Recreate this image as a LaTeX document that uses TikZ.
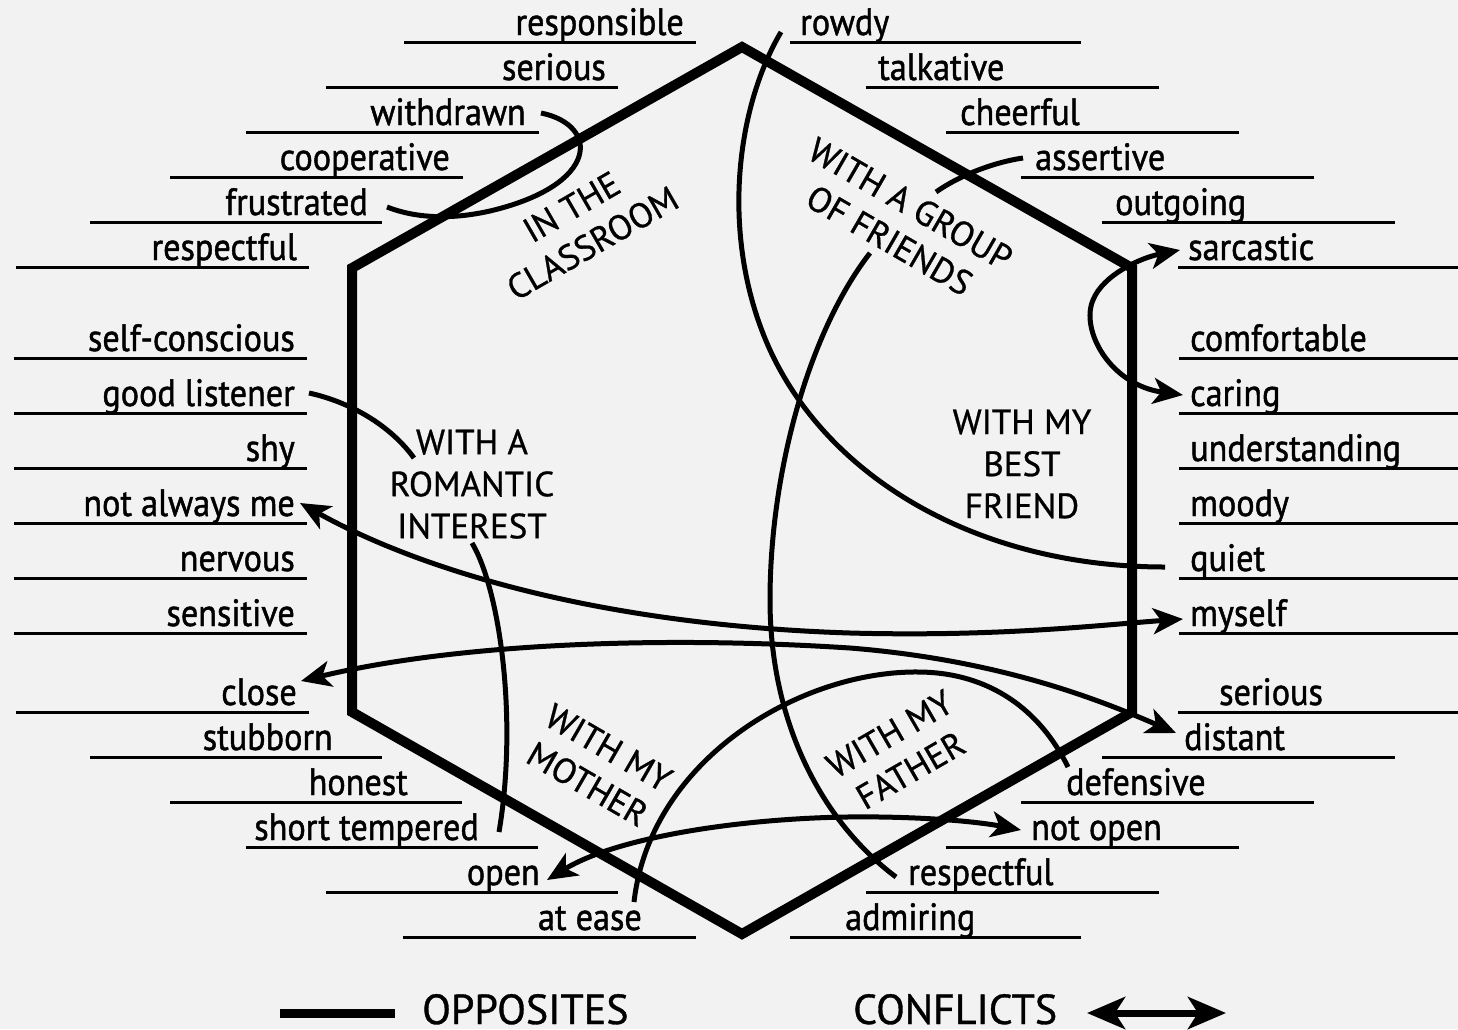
\documentclass[tikz,border=0pt]{standalone}
\usepackage{fontspec}
\setmainfont{PT Sans}
\newfontfamily\hand[FakeStretch=0.9,FakeBold=1.2]{PT Sans}
\newfontfamily\lab[FakeBold=0.8]{PT Sans}
\usetikzlibrary{arrows.meta}
\definecolor{bg}{HTML}{F2F2F2}
\tikzset{
  uline/.style={line width=3pt},
  word/.style={font=\hand\fontsize{38}{42}\selectfont, inner sep=0pt},
  lw/.style={word, anchor=base east},
  rw/.style={word, anchor=base west},
  region/.style={font=\lab\fontsize{35}{42}\selectfont, align=center, inner sep=0pt},
  link/.style={line width=5pt},
  hexa/.style={line width=10pt, line join=miter},
  tipB/.style={{Stealth[length=30pt,width=26pt,inset=8pt]}-{Stealth[length=30pt,width=26pt,inset=8pt]}},
  legendtext/.style={font=\lab\fontsize{42}{46}\selectfont, anchor=base west, inner sep=0pt},
}
\begin{document}
\begin{tikzpicture}[x=1pt,y=-1pt]
\useasboundingbox (0,0) rectangle (1458,1029);
\fill[bg] (0,0) rectangle (1458,1029);

% left words: name/text/text right x/line y/line left/line right
\foreach \n/\t/\x/\y/\a/\b in {
  responsible/responsible/684/42/404/696,
  seriousL/serious/606/87/326/618,
  withdrawn/withdrawn/526/132/246/539,
  cooperative/cooperative/450/177/170/463,
  frustrated/frustrated/368/222/90/382,
  respectfulL/respectful/297/267/16/309,
  selfconscious/self-conscious/295/358/14/307,
  goodlistener/good listener/295/413/14/307,
  shy/shy/295/468/14/307,
  notalwaysme/not always me/295/523/14/307,
  nervous/nervous/295/578/14/307,
  sensitive/sensitive/295/633/14/307,
  close/close/297/712/16/309,
  stubborn/stubborn/333/757/90/382,
  honest/honest/408/802/170/462,
  shorttempered/short tempered/479/847/246/538,
  open/open/540/892/326/618,
  atease/at ease/642/937/403/696}
{
  \draw[uline] (\a,\y) -- (\b,\y);
  \node[lw] (\n) at (\x,\y-7) {\t};
}

% right words: name/text/text left x/line y/line left/line right
\foreach \n/\t/\x/\y/\a/\b in {
  rowdy/rowdy/800/42/790/1081,
  talkative/talkative/878/87/866/1159,
  cheerful/cheerful/960/132/946/1239,
  assertive/assertive/1035/177/1021/1314,
  outgoing/outgoing/1115/222/1102/1395,
  sarcastic/sarcastic/1188/267/1178/1458,
  comfortable/comfortable/1190/358/1179/1458,
  caring/caring/1190/413/1179/1458,
  understanding/understanding/1190/468/1179/1458,
  moody/moody/1190/523/1179/1458,
  quiet/quiet/1190/578/1179/1458,
  myself/myself/1190/633/1179/1458,
  seriousR/serious/1219/712/1178/1458,
  distant/distant/1184/757/1102/1395,
  defensive/defensive/1066/802/1021/1314,
  notopen/not open/1031/847/946/1239,
  respectfulR/respectful/908/892/866/1159,
  admiring/admiring/845/937/790/1081}
{
  \draw[uline] (\a,\y) -- (\b,\y);
  \node[rw] (\n) at (\x,\y-7) {\t};
}

% region labels
\node[region, rotate=30] (classroom) at (582,225) {IN THE\\CLASSROOM};
\node[region, rotate=-30] (friends) at (900,222) {WITH A GROUP\\OF FRIENDS};
\node[region] (bestfriend) at (1022,464) {WITH MY\\BEST\\FRIEND};
\node[region] (romantic) at (472,484) {WITH A\\ROMANTIC\\INTEREST};
\node[region, rotate=-30] (mother) at (598,766) {WITH MY\\MOTHER};
\node[region, rotate=30] (father) at (900,752) {WITH MY\\FATHER};

% connector end points
\coordinate (cWithdrawn) at (541,113);
\coordinate (cFrustrated) at (387,207);
\coordinate (cRowdy) at (781,32);
\coordinate (cQuiet) at (1165,567);
\coordinate (cAssertive) at (1023,158);
\coordinate (cAssertiveB) at (936,192);
\coordinate (cRespectA) at (870,253);
\coordinate (cRespect) at (896,877);
\coordinate (cSarcastic) at (1180,250);
\coordinate (cCaring) at (1183,395);
\coordinate (cListener) at (309,393);
\coordinate (cListenerB) at (414,458);
\coordinate (cTemperA) at (472,543);
\coordinate (cTemper) at (499,832);
\coordinate (cNotAlways) at (300,503);
\coordinate (cMyself) at (1183,619);
\coordinate (cClose) at (301,681);
\coordinate (cDistant) at (1176,733);
\coordinate (cOpen) at (547,880);
\coordinate (cNotOpen) at (1021,830);
\coordinate (cAtEase) at (634,902);
\coordinate (cDefensive) at (1068,767);

% connectors
\draw[link] (cWithdrawn) .. controls (600,125) and (600,185) .. (490,211)
  .. controls (450,220) and (415,218) .. (cFrustrated);
\draw[link] (cRowdy) .. controls (735,110) and (720,240) .. (770,350)
  .. controls (830,480) and (980,567) .. (cQuiet);
\draw[link] (cAssertive) .. controls (995,162) and (960,175) .. (cAssertiveB);
\draw[link] (cRespectA) .. controls (810,330) and (770,470) .. (770,600)
  .. controls (770,720) and (820,820) .. (cRespect);
\draw[link, tipB] (cCaring) .. controls (1110,385) and (1080,330) .. (1093,300)
  .. controls (1103,275) and (1140,258) .. (cSarcastic);
\draw[link] (cListener) .. controls (350,402) and (390,425) .. (cListenerB);
\draw[link] (cTemperA) .. controls (500,590) and (518,720) .. (cTemper);
\draw[link, tipB] (cNotAlways) .. controls (420,570) and (600,625) .. (850,633)
  .. controls (1000,637) and (1100,625) .. (cMyself);
\draw[link, tipB] (cClose) .. controls (450,645) and (650,635) .. (850,648)
  .. controls (1000,660) and (1100,700) .. (cDistant);
\draw[link, tipB] (cOpen) .. controls (620,835) and (760,815) .. (880,817)
  .. controls (950,818) and (990,824) .. (cNotOpen);
\draw[link] (cAtEase) .. controls (650,760) and (800,670) .. (920,672)
  .. controls (990,673) and (1040,710) .. (cDefensive);

% hexagon
\draw[hexa] (742,47) -- (1132,268) -- (1132,712) -- (742,934) -- (352,712) -- (352,268) -- cycle;

% legend
\coordinate (oppA) at (280,1013);
\coordinate (oppB) at (395,1013);
\draw[line width=9pt] (oppA) -- (oppB);
\node[legendtext] (opposites) at (422,1024) {OPPOSITES};
\node[legendtext] (conflicts) at (853,1024) {CONFLICTS};
\coordinate (conA) at (1087,1013);
\coordinate (conB) at (1226,1013);
\draw[line width=7pt, {Stealth[length=38pt,width=32pt,inset=10pt]}-{Stealth[length=38pt,width=32pt,inset=10pt]}] (conA) -- (conB);
\end{tikzpicture}
\end{document}
